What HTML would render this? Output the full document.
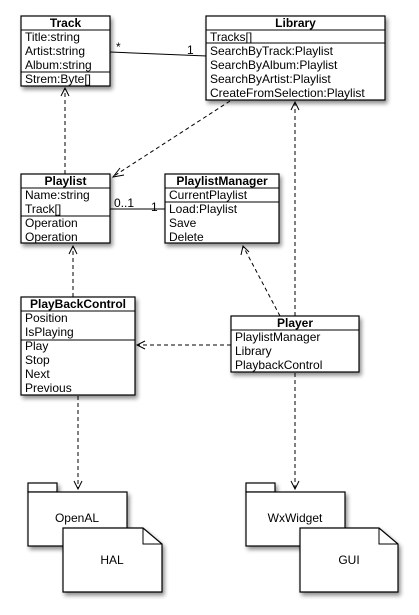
<!DOCTYPE html>
<html><head><style>
body{margin:0;background:#fff}
svg{display:block}
text{font-family:"Liberation Sans",sans-serif;font-size:12px;fill:#000}
.b{font-weight:bold}
.box{fill:#fff;stroke:#000;stroke-width:1.2}
.ln{stroke:#000;stroke-width:1}
.d{stroke:#000;stroke-width:1;stroke-dasharray:4,3;fill:none}
.ah{stroke:#000;stroke-width:1;fill:none}
</style></head><body>
<svg width="419" height="615" viewBox="0 0 419 615">
<defs><filter id="sh" x="-20%" y="-20%" width="150%" height="150%"><feGaussianBlur in="SourceAlpha" stdDeviation="2"/><feOffset dx="2" dy="3"/><feComponentTransfer><feFuncA type="linear" slope="0.45"/></feComponentTransfer><feMerge><feMergeNode/><feMergeNode in="SourceGraphic"/></feMerge></filter></defs>

<line class="ln" x1="110" y1="52" x2="207" y2="56"/>
<text x="116" y="51">*</text><text x="187" y="54">1</text>
<line class="ln" x1="110" y1="209" x2="165" y2="209"/>
<text x="114" y="207">0..1</text><text x="151" y="211">1</text>

<line class="d" x1="65" y1="174" x2="65" y2="88"/>
<path class="ah" d="M61,96 L65,88 L69,96"/>
<line class="d" x1="230" y1="101" x2="114" y2="176"/>
<path class="ah" d="M120,168 L113,177 L124,175"/>
<line class="d" x1="295" y1="316" x2="295" y2="102"/>
<path class="ah" d="M291,110 L295,102 L299,110"/>
<line class="d" x1="280" y1="316" x2="243" y2="246"/>
<path class="ah" d="M241,255 L243,246 L249,252"/>
<line class="d" x1="231" y1="345" x2="137" y2="345"/>
<path class="ah" d="M145,341 L137,345 L145,349"/>
<line class="d" x1="73" y1="297" x2="73" y2="246"/>
<path class="ah" d="M69,254 L73,246 L77,254"/>
<line class="d" x1="78" y1="396" x2="78" y2="489"/>
<path class="ah" d="M74,481 L78,489 L82,481"/>
<line class="d" x1="295" y1="373" x2="295" y2="489"/>
<path class="ah" d="M291,481 L295,489 L299,481"/>

<g filter="url(#sh)"><rect class="box" x="21" y="16" width="89" height="70"/></g>
<line class="ln" x1="21" y1="30" x2="110" y2="30"/><line class="ln" x1="21" y1="72" x2="110" y2="72"/>
<text class="b" x="65.5" y="27" text-anchor="middle">Track</text>
<text x="25" y="41">Title:string</text><text x="25" y="55">Artist:string</text><text x="25" y="69">Album:string</text><text x="25" y="83">Strem:Byte[]</text>

<g filter="url(#sh)"><rect class="box" x="206" y="16" width="179" height="84"/></g>
<line class="ln" x1="206" y1="30" x2="385" y2="30"/><line class="ln" x1="206" y1="43" x2="385" y2="43"/>
<text class="b" x="295.5" y="27" text-anchor="middle">Library</text>
<text x="210" y="41">Tracks[]</text><text x="210" y="55">SearchByTrack:Playlist</text><text x="210" y="69">SearchByAlbum:Playlist</text><text x="210" y="83">SearchByArtist:Playlist</text><text x="210" y="97">CreateFromSelection:Playlist</text>

<g filter="url(#sh)"><rect class="box" x="21" y="174" width="89" height="69"/></g>
<line class="ln" x1="21" y1="188" x2="110" y2="188"/><line class="ln" x1="21" y1="216" x2="110" y2="216"/>
<text class="b" x="65.5" y="185" text-anchor="middle">Playlist</text>
<text x="25" y="199">Name:string</text><text x="25" y="213">Track[]</text><text x="25" y="227">Operation</text><text x="25" y="241">Operation</text>

<g filter="url(#sh)"><rect class="box" x="165" y="174" width="114" height="69"/></g>
<line class="ln" x1="165" y1="188" x2="279" y2="188"/><line class="ln" x1="165" y1="202" x2="279" y2="202"/>
<text class="b" x="222" y="185" text-anchor="middle">PlaylistManager</text>
<text x="169" y="199">CurrentPlaylist</text><text x="169" y="213">Load:Playlist</text><text x="169" y="227">Save</text><text x="169" y="241">Delete</text>

<g filter="url(#sh)"><rect class="box" x="21" y="297" width="114" height="98"/></g>
<line class="ln" x1="21" y1="311" x2="135" y2="311"/><line class="ln" x1="21" y1="340" x2="135" y2="340"/>
<text class="b" x="78" y="308" text-anchor="middle">PlayBackControl</text>
<text x="25" y="322">Position</text><text x="25" y="336">IsPlaying</text><text x="25" y="350">Play</text><text x="25" y="364">Stop</text><text x="25" y="378">Next</text><text x="25" y="392">Previous</text>

<g filter="url(#sh)"><rect class="box" x="231" y="316" width="128" height="56"/></g>
<line class="ln" x1="231" y1="330" x2="359" y2="330"/>
<text class="b" x="295" y="327" text-anchor="middle">Player</text>
<text x="235" y="341">PlaylistManager</text><text x="235" y="355">Library</text><text x="235" y="369">PlaybackControl</text>

<g filter="url(#sh)"><rect class="box" x="28" y="483" width="29" height="9"/><rect class="box" x="28" y="492" width="99" height="54"/></g>
<text x="77" y="522" text-anchor="middle">OpenAL</text>
<g filter="url(#sh)"><path class="box" d="M63,528 H143 L162,544 V592 H63 Z"/></g>
<path class="ln" fill="none" d="M143,528 V544 H162"/>
<text x="112" y="564" text-anchor="middle">HAL</text>

<g filter="url(#sh)"><rect class="box" x="246" y="483" width="29" height="9"/><rect class="box" x="246" y="492" width="99" height="54"/></g>
<text x="295" y="522" text-anchor="middle">WxWidget</text>
<g filter="url(#sh)"><path class="box" d="M300,528 H379 L398,544 V592 H300 Z"/></g>
<path class="ln" fill="none" d="M379,528 V544 H398"/>
<text x="349" y="564" text-anchor="middle">GUI</text>
</svg>
</body></html>
